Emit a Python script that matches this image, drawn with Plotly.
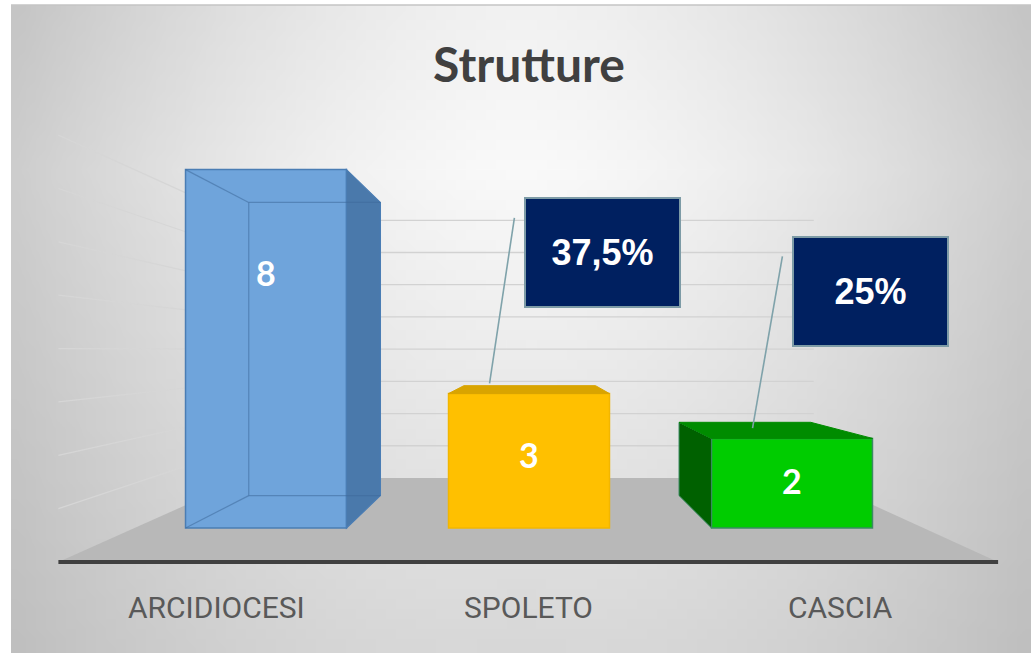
import base64
import struct
import zlib
import plotly.graph_objects as go

# ---------------- data ----------------
categories = ["ARCIDIOCESI", "SPOLETO", "CASCIA"]
values = [8, 3, 2]
title_text = "Strutture"

# ---------------- style ----------------
front_colors = ["#6fa4db", "#ffc000", "#00cc00"]
side_colors = ["#4a79ab", "#cf9c00", "#006100"]
top_colors = ["#5d90c7", "#d9a400", "#008c00"]
edge_colors = ["#4a7db4", "#f2b600", "#3a8a62"]
transparent_look = [True, False, False]
label_y = [5.71, 1.63, 1.07]                  # value-label heights (axis units)
callout_pos = {1: (1.2795, 6.15), 2: (2.2985, 5.29)}

W, H = 1031, 653
BAR_W = 0.612
HW = BAR_W / 2
PPU_Y = 44.8           # pixels per value unit
BASE_PX = 528          # baseline pixel row
# perspective (in bar-axis data units)
VX, VY = 1.015, (BASE_PX - 350) / PPU_Y
S_BACK, S_WALL, S_FRONT, S_LABEL = 0.818, 0.719, 1.191, 1.187


def P(x, y, s):
    return (VX + (x - VX) * s, VY + (y - VY) * s)


def path(pts):
    return "M " + " L ".join(f"{x:.4f},{y:.4f}" for x, y in pts) + " Z"


# ---------------- background gradient as small PNG ----------------
def make_png(w, h, rows):
    def chunk(t, d):
        return struct.pack(">I", len(d)) + t + d + struct.pack(">I", zlib.crc32(t + d) & 0xFFFFFFFF)
    raw = b"".join(b"\x00" + bytes(r) for r in rows)
    return (b"\x89PNG\r\n\x1a\n" + chunk(b"IHDR", struct.pack(">IIBBBBB", w, h, 8, 0, 0, 0, 0))
            + chunk(b"IDAT", zlib.compress(raw)) + chunk(b"IEND", b""))


GX0, GY0 = 11, 5
gw, gh = 102, 65
rows = []
for j in range(gh):
    py = GY0 + (j + 0.5) * (H - GY0) / gh
    row = []
    for i in range(gw):
        px = GX0 + (i + 0.5) * (W - GX0) / gw
        dx = abs(px - 520) / 510
        dy = (py - 170) / 480
        g = 250 - 45 * min(dx, 1.05) ** 1.6
        if dy > 0:
            g -= 35 * dy * (1 - 0.6 * min(dx, 1))
        else:
            g -= 25 * (-dy)
        row.append(int(max(0, min(255, g))))
    rows.append(row)
bg_uri = "data:image/png;base64," + base64.b64encode(make_png(gw, gh, rows)).decode()

# ---------------- figure ----------------
fig = go.Figure()
fig.add_trace(go.Bar(
    x=categories, y=values, xaxis="x", yaxis="y",
    width=BAR_W,
    marker=dict(color=front_colors, line=dict(color=edge_colors, width=1.5)),
    hoverinfo="x+y", showlegend=False,
))

BX, BY = "x", "y"
shapes = []
# floor
shapes.append(dict(type="path", xref=BX, yref=BY, layer="below",
                   path=path([P(-0.5, 0, S_FRONT), P(2.5, 0, S_FRONT), P(2.5, 0, S_WALL), P(-0.5, 0, S_WALL)]),
                   fillcolor="#b8b8b8", line=dict(width=0)))
# gridlines on back wall and left wall
for k in range(1, 9):
    a, b = P(-0.5, k, S_WALL), P(2.5, k, S_WALL)
    shapes.append(dict(type="line", xref=BX, yref=BY, layer="below",
                       x0=a[0], y0=a[1], x1=b[0], y1=b[1], line=dict(color="#d2d2d2", width=1.3)))
    c = P(-0.5, k, S_FRONT)
    shapes.append(dict(type="line", xref=BX, yref=BY, layer="below",
                       x0=c[0], y0=c[1], x1=a[0], y1=a[1], line=dict(color="#d6d6d6", width=1.3)))
# front axis line
a, b = P(-0.5, 0, S_FRONT), P(2.5, 0, S_FRONT)
shapes.append(dict(type="line", xref=BX, yref=BY, layer="below",
                   x0=a[0], y0=a[1], x1=b[0], y1=b[1], line=dict(color="#404040", width=3.8)))

# 3D faces of the bars
for i, v in enumerate(values):
    FTL, FTR, FBL, FBR = (i - HW, v), (i + HW, v), (i - HW, 0), (i + HW, 0)
    BTL, BTR, BBL, BBR = P(i - HW, v, S_BACK), P(i + HW, v, S_BACK), P(i - HW, 0, S_BACK), P(i + HW, 0, S_BACK)
    if BTR[0] > FTR[0]:
        shapes.append(dict(type="path", xref=BX, yref=BY, layer="above",
                           path=path([FTR, BTR, BBR, FBR]), fillcolor=side_colors[i],
                           line=dict(color=edge_colors[i], width=1.2)))
    if BTL[0] < FTL[0]:
        shapes.append(dict(type="path", xref=BX, yref=BY, layer="above",
                           path=path([FTL, BTL, BBL, FBL]), fillcolor=side_colors[i],
                           line=dict(color=edge_colors[i], width=1.0)))
    if v < VY:
        shapes.append(dict(type="path", xref=BX, yref=BY, layer="above",
                           path=path([FTL, FTR, BTR, BTL]), fillcolor=top_colors[i],
                           line=dict(color=top_colors[i], width=1.0)))
    if transparent_look[i]:
        ec = "rgba(62,105,155,0.55)"
        for p0, p1 in [(BTL, BTR), (BBL, BBR), (BTL, BBL), (FTL, BTL), (FBL, BBL)]:
            shapes.append(dict(type="line", xref=BX, yref=BY, layer="above",
                               x0=p0[0], y0=p0[1], x1=p1[0], y1=p1[1], line=dict(color=ec, width=1.2)))

annotations = []
# category labels along the front edge of the floor
for i, cat in enumerate(categories):
    annotations.append(dict(x=P(i, 0, S_LABEL)[0], y=1 - 607 / H, xref=BX, yref="paper", text=cat,
                            showarrow=False, xanchor="center", yanchor="middle",
                            font=dict(family="Roboto, sans-serif", size=30, color="#595959")))
# value labels
for i, v in enumerate(values):
    annotations.append(dict(x=i, y=label_y[i], xref=BX, yref=BY, text=f"<b>{v}</b>",
                            showarrow=False, xanchor="center", yanchor="middle",
                            font=dict(family="Lato, Carlito, sans-serif", size=34, color="white")))
# percentage callouts relative to first bar
for i, (cx, cy) in callout_pos.items():
    pct = values[i] / values[0] * 100
    txt = f"{pct:.1f}".rstrip("0").rstrip(".").replace(".", ",") + "%"
    ax_, ay_ = i - 0.15, values[i] + 0.23
    shapes.append(dict(type="line", xref=BX, yref=BY, layer="above",
                       x0=ax_, y0=ay_, x1=cx - 0.335, y1=cy + 0.775,
                       line=dict(color="#7fa2aa", width=1.6)))
    annotations.append(dict(x=cx, y=cy, xref=BX, yref=BY, text=f"<b>{txt}</b>",
                            showarrow=False, xanchor="center", yanchor="middle",
                            width=153, height=107, borderpad=0, borderwidth=2,
                            bgcolor="#002060", bordercolor="#7d9ba6",
                            font=dict(family="Liberation Sans, Arial, sans-serif", size=36, color="white")))

# outer chart border (top)
shapes.append(dict(type="line", xref="paper", yref="paper", layer="above",
                   x0=GX0 / W, x1=1, y0=1 - GY0 / H, y1=1 - GY0 / H, line=dict(color="#c4c4c4", width=1.5)))

y_lo = -(H - BASE_PX) / PPU_Y
y_hi = BASE_PX / PPU_Y

fig.update_layout(
    width=W, height=H,
    margin=dict(l=0, r=0, t=0, b=0),
    paper_bgcolor="white", plot_bgcolor="rgba(0,0,0,0)",
    title=dict(text=f"<b>{title_text}</b>", x=529 / W, y=1 - 65 / H, xanchor="center", yanchor="middle",
               xref="paper", yref="container",
               font=dict(family="Lato, Carlito, sans-serif", size=48, color="#404040")),
    images=[dict(source=bg_uri, xref="paper", yref="paper", x=GX0 / W, y=1 - GY0 / H,
                 sizex=(W - GX0) / W, sizey=(H - GY0) / H, sizing="stretch",
                 xanchor="left", yanchor="top", layer="below")],
    xaxis=dict(domain=[0, 1], type="category", categoryorder="array", categoryarray=categories,
               range=[-266 / 263, (W - 266) / 263], showticklabels=False, ticks="",
               showgrid=False, zeroline=False, showline=False, fixedrange=True),
    yaxis=dict(domain=[0, 1], range=[y_lo, y_hi], showticklabels=False, ticks="", showgrid=False,
               zeroline=False, showline=False, fixedrange=True),
    shapes=shapes, annotations=annotations,
    showlegend=False,
)

fig.write_html("out.html", config={"displayModeBar": False},
               post_script="document.body.style.margin='0';")
